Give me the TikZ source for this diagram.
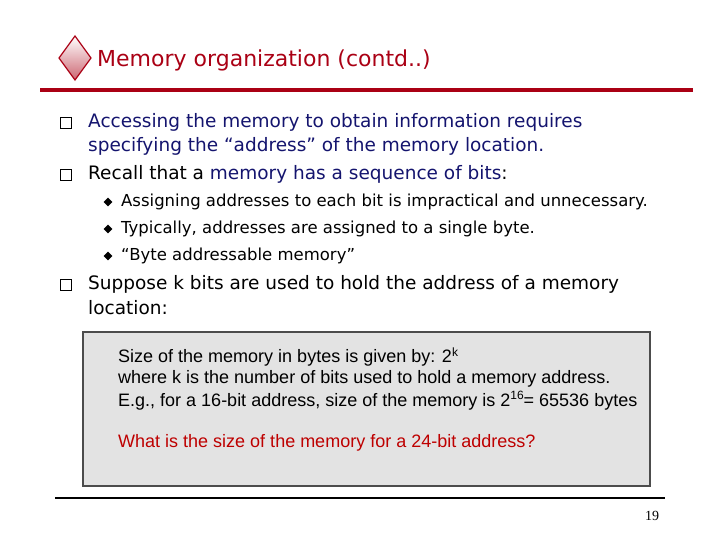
\documentclass[tikz,border=0pt]{standalone}
\usepackage{fontspec}
\setmainfont{DejaVu Sans}
\newfontfamily\boxfont{Liberation Sans}
\newfontfamily\numfont{Liberation Serif}
\usetikzlibrary{shapes.geometric}
\definecolor{titlered}{RGB}{170,0,20}
\definecolor{navy}{RGB}{20,20,110}
\definecolor{boxred}{RGB}{190,0,0}
\tikzset{
  body/.style={anchor=west, inner sep=0pt, font=\fontsize{18.5}{22}\selectfont},
  sub/.style={anchor=west, inner sep=0pt, font=\fontsize{16.5}{19}\selectfont},
  boxtext/.style={anchor=west, inner sep=0pt, font=\boxfont\fontsize{18}{21}\selectfont},
  sq/.style={draw, line width=0.7pt, minimum size=11pt, inner sep=0pt},
  dia/.style={diamond, fill=black, minimum size=9pt, inner sep=0pt}
}
\begin{document}
\begin{tikzpicture}[x=1pt,y=-1pt]
  \useasboundingbox (0,0) rectangle (720,540);
  % title
  \shade[top color=white, bottom color=titlered!60, draw=titlered, line width=1.2pt]
    (75,36) -- (91,58) -- (75,80) -- (59,58) -- cycle;
  \node[anchor=west, inner sep=0pt, text=titlered, font=\fontsize{22}{26}\selectfont] (title) at (97,60) {Memory organization (contd..)};
  \fill[titlered] (40,88) rectangle (693,92);
  % bullets
  \node[sq] (b1) at (66,123) {};
  \node[body, text=navy] (t1a) at (88,122) {Accessing the memory to obtain information requires};
  \node[body, text=navy] (t1b) at (88,146) {specifying the “address” of the memory location.};
  \node[sq] (b2) at (66,175) {};
  \node[body] (t2) at (88,174) {Recall that a \textcolor{navy}{memory has a sequence of bits}:};
  \node[dia] (d1) at (108,202) {};
  \node[sub] (s1) at (121,202) {Assigning addresses to each bit is impractical and unnecessary.};
  \node[dia] (d2) at (108,229) {};
  \node[sub] (s2) at (121,229) {Typically, addresses are assigned to a single byte.};
  \node[dia] (d3) at (108,256) {};
  \node[sub] (s3) at (121,256) {“Byte addressable memory”};
  \node[sq] (b3) at (66,285) {};
  \node[body] (t3a) at (88,284) {Suppose k bits are used to hold the address of a memory};
  \node[body] (t3b) at (88,308) {location:};
  % box
  \draw[fill=gray!22, draw=gray!60!black, line width=1.5pt] (83,332) rectangle (650,486);
  \node[boxtext] (k1) at (118,357) {Size of the memory in bytes is given by: 2\raisebox{0.7ex}{\fontsize{12}{13}\selectfont k}};
  \node[boxtext] (k2) at (118,379) {where k is the number of bits used to hold a memory address.};
  \node[boxtext] (k3) at (118,401) {E.g., for a 16-bit address, size of the memory is 2\raisebox{0.7ex}{\fontsize{12}{13}\selectfont 16}= 65536 bytes};
  \node[boxtext, text=boxred] (k4) at (118,443) {What is the size of the memory for a 24-bit address?};
  % footer
  \draw[line width=1.5pt] (55,498) -- (665,498);
  \node[anchor=west, inner sep=0pt, font=\numfont\fontsize{14}{16}\selectfont] (page) at (645,516) {19};
\end{tikzpicture}
\end{document}
